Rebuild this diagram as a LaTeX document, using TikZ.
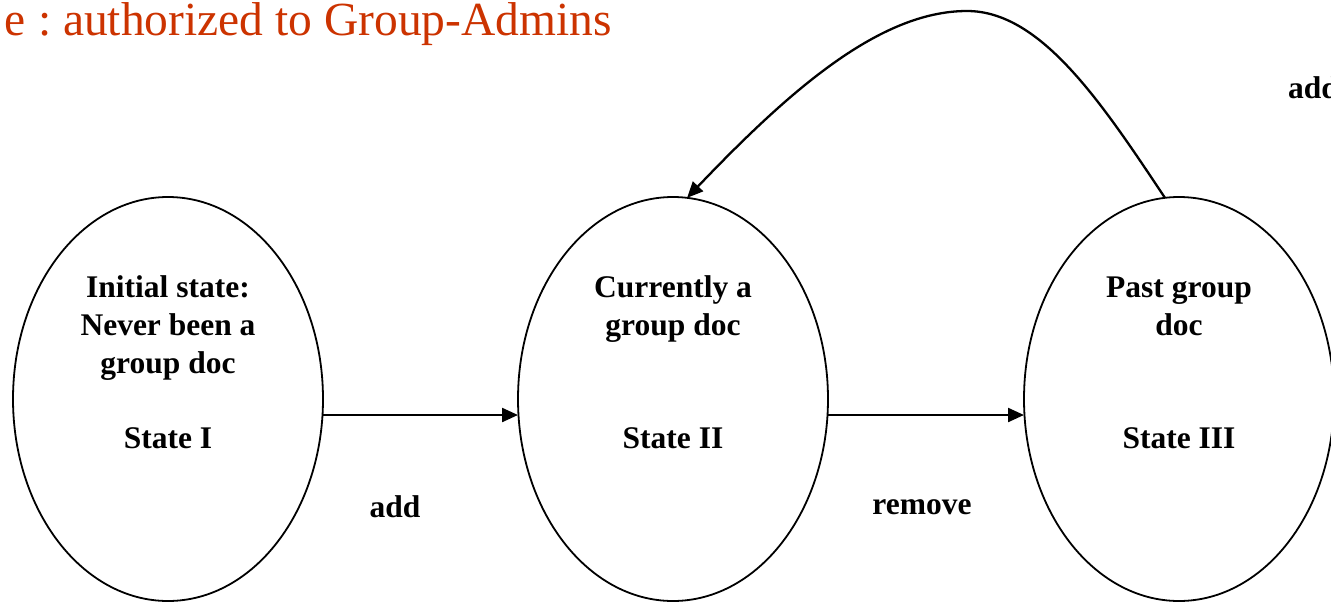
\documentclass[tikz,border=0pt]{standalone}
\usepackage{fontspec}
\setmainfont{Liberation Serif}
\usetikzlibrary{shapes.geometric,arrows.meta}
\definecolor{titlered}{RGB}{204,51,0}
\tikzset{
  stateell/.style={draw=black, line width=1.8pt, ellipse, minimum width=310pt, minimum height=404pt, inner sep=0pt, outer sep=0pt},
  stxt/.style={anchor=base, inner sep=0pt, font=\fontsize{31.5}{38}\selectfont\bfseries},
  conn/.style={draw=black, line width=2.3pt, -{Triangle[length=16pt,width=14pt]}},
  titletxt/.style={anchor=base east, inner sep=0pt, text=titlered, font=\fontsize{47.5}{56}\selectfont}
}
\begin{document}
\begin{tikzpicture}[x=1pt,y=-1pt]
\useasboundingbox (0,0) rectangle (1331,603);
\clip (0,0) rectangle (1331,603);
\fill[white] (0,0) rectangle (1331,603);
% title
\node[titletxt] (title) at (612,35) {e\hspace{2pt} :\hspace{-5pt} authorized to Group-Admins};
% states
\node[stateell] (s1) at (168,399) {};
\node[stateell] (s2) at (673,399) {};
\node[stateell] (s3) at (1179,399) {};
\coordinate (arrowy) at (0,415);
% state texts
\node[stxt] (t1a) at (168,297) {Initial state:};
\node[stxt] (t1b) at (168,335) {Never been a};
\node[stxt] (t1c) at (168,373) {group doc};
\node[stxt] (t1d) at (168,448) {State I};
\node[stxt] (t2a) at (673,297) {Currently a};
\node[stxt] (t2b) at (673,335) {group doc};
\node[stxt] (t2d) at (673,448) {State II};
\node[stxt] (t3a) at (1179,297) {Past group};
\node[stxt] (t3b) at (1179,335) {doc};
\node[stxt] (t3d) at (1179,448) {State III};
% labels
\node[stxt] (l1) at (395,517) {add};
\node[stxt] (l2) at (922,514) {remove};
\node[stxt, anchor=base west] (l3) at (1288,98) {add};
% connectors
\draw[conn] (s1.east |- arrowy) -- (s2.west |- arrowy);
\draw[conn] (s2.east |- arrowy) -- (s3.west |- arrowy);
\draw[conn] (s3.94.5) .. controls (1100,100) and (1040,11) .. (967,11)
  .. controls (880,11) and (790,90) .. (s2.86);
\end{tikzpicture}
\end{document}
